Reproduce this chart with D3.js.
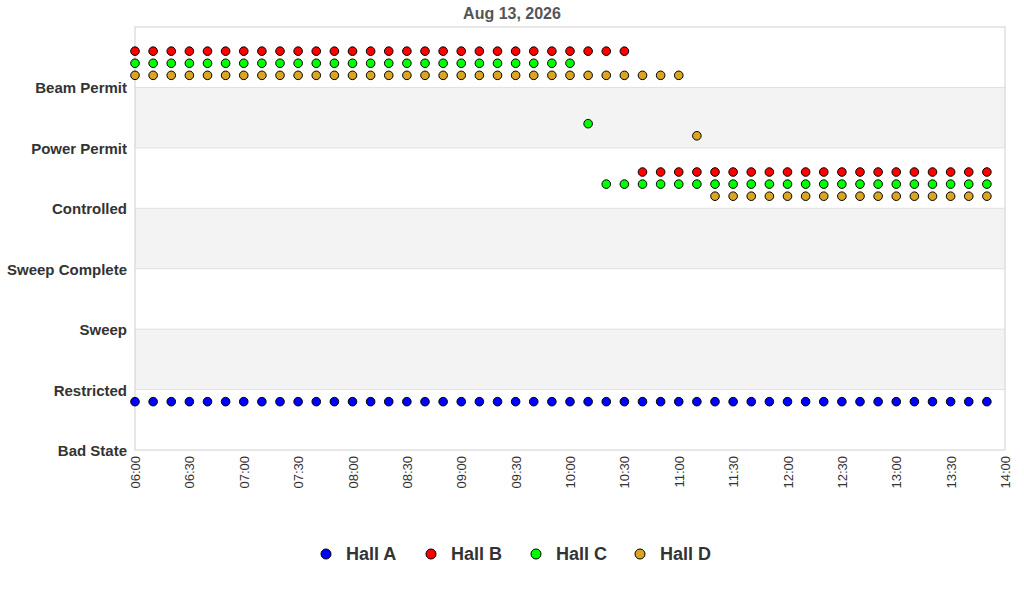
<!DOCTYPE html>
<html><head><meta charset="utf-8">
<script src="https://cdn.jsdelivr.net/npm/d3@7"></script>
<style>body{margin:0;background:#fff;font-family:"Liberation Sans",Arial,sans-serif}</style>
</head><body><svg id="c" width="1024" height="600"></svg>
<script>
const title = "Aug 13, 2026";
const levels = ["Bad State","Restricted","Sweep","Sweep Complete","Controlled","Power Permit","Beam Permit"];
const halls = ["Hall A","Hall B","Hall C","Hall D"];
const colors = ["#0000ff","#ff0000","#00ff00","#daa520"];
const offsets = [0.8,0.6,0.4,0.2];
const times = ["06:00","06:10","06:20","06:30","06:40","06:50","07:00","07:10","07:20","07:30","07:40","07:50",
"08:00","08:10","08:20","08:30","08:40","08:50","09:00","09:10","09:20","09:30","09:40","09:50",
"10:00","10:10","10:20","10:30","10:40","10:50","11:00","11:10","11:20","11:30","11:40","11:50",
"12:00","12:10","12:20","12:30","12:40","12:50","13:00","13:10","13:20","13:30","13:40","13:50"];
const hallA = [0,0,0,0,0,0,0,0,0,0,0,0, 0,0,0,0,0,0,0,0,0,0,0,0, 0,0,0,0,0,0,0,0,0,0,0,0, 0,0,0,0,0,0,0,0,0,0,0,0];
const hallB = [6,6,6,6,6,6,6,6,6,6,6,6, 6,6,6,6,6,6,6,6,6,6,6,6, 6,6,6,6,4,4,4,4,4,4,4,4, 4,4,4,4,4,4,4,4,4,4,4,4];
const hallC = [6,6,6,6,6,6,6,6,6,6,6,6, 6,6,6,6,6,6,6,6,6,6,6,6, 6,5,4,4,4,4,4,4,4,4,4,4, 4,4,4,4,4,4,4,4,4,4,4,4];
const hallD = [6,6,6,6,6,6,6,6,6,6,6,6, 6,6,6,6,6,6,6,6,6,6,6,6, 6,6,6,6,6,6,6,5,4,4,4,4, 4,4,4,4,4,4,4,4,4,4,4,4];
const series = [hallA,hallB,hallC,hallD];
const tickTimes = ["06:00","06:30","07:00","07:30","08:00","08:30","09:00","09:30","10:00","10:30","11:00","11:30","12:00","12:30","13:00","13:30","14:00"];

const svg = d3.select("#c");
const L=135,R=1005,T=27,B=450;
const p = d3.timeParse("%H:%M");
const x = d3.scaleTime().domain([p("06:00"),p("14:00")]).range([L,R]);
const y = d3.scaleLinear().domain([0,7]).range([B,T]);

for(let i=0;i<7;i++){
  svg.append("rect").attr("x",L).attr("width",R-L).attr("y",y(i+1)).attr("height",y(i)-y(i+1))
    .attr("fill", (i%2===1)?"#f3f3f3":"#fff");
}
svg.append("g").selectAll("line").data(d3.range(1,7)).join("line")
  .attr("x1",L).attr("x2",R).attr("y1",d=>y(d)).attr("y2",d=>y(d)).attr("stroke","#e0e0e0");
svg.append("rect").attr("x",L).attr("y",T).attr("width",R-L).attr("height",B-T).attr("fill","none").attr("stroke","#d0d0d0");

svg.append("g").selectAll("text").data(levels).join("text")
  .attr("x",127).attr("y",(d,i)=>y(i)+6).attr("text-anchor","end")
  .attr("font-size",15).attr("font-weight","bold").attr("fill","#333").text(d=>d);

const xa = svg.append("g").attr("transform",`translate(0,${B})`)
  .call(d3.axisBottom(x).tickValues(tickTimes.map(p)).tickFormat(d3.timeFormat("%H:%M")).tickSize(0).tickPadding(0));
xa.select(".domain").remove();
xa.selectAll("text").attr("transform","rotate(-90)").attr("text-anchor","end").attr("x",-6).attr("y",0).attr("dy","0.35em")
  .attr("font-size",13).attr("fill","#333").attr("font-family","Liberation Sans, Arial, sans-serif");

svg.append("text").attr("x",512).attr("y",19).attr("text-anchor","middle").attr("font-size",16)
  .attr("font-weight","bold").attr("fill","#555").text(title);

series.forEach((s,h)=>{
  svg.append("g").selectAll("circle").data(s).join("circle")
    .attr("cx",(d,i)=>x(p(times[i]))).attr("cy",d=>y(d+offsets[h])).attr("r",4.3)
    .attr("fill",colors[h]).attr("stroke","#000").attr("stroke-width",1);
});

const lx=[326,431,536,640];
halls.forEach((h,i)=>{
  svg.append("circle").attr("cx",lx[i]).attr("cy",554).attr("r",5).attr("fill",colors[i]).attr("stroke","#000");
  svg.append("text").attr("x",lx[i]+20).attr("y",560).attr("font-size",18).attr("font-weight","bold").attr("fill","#333").text(h);
});
</script></body></html>
